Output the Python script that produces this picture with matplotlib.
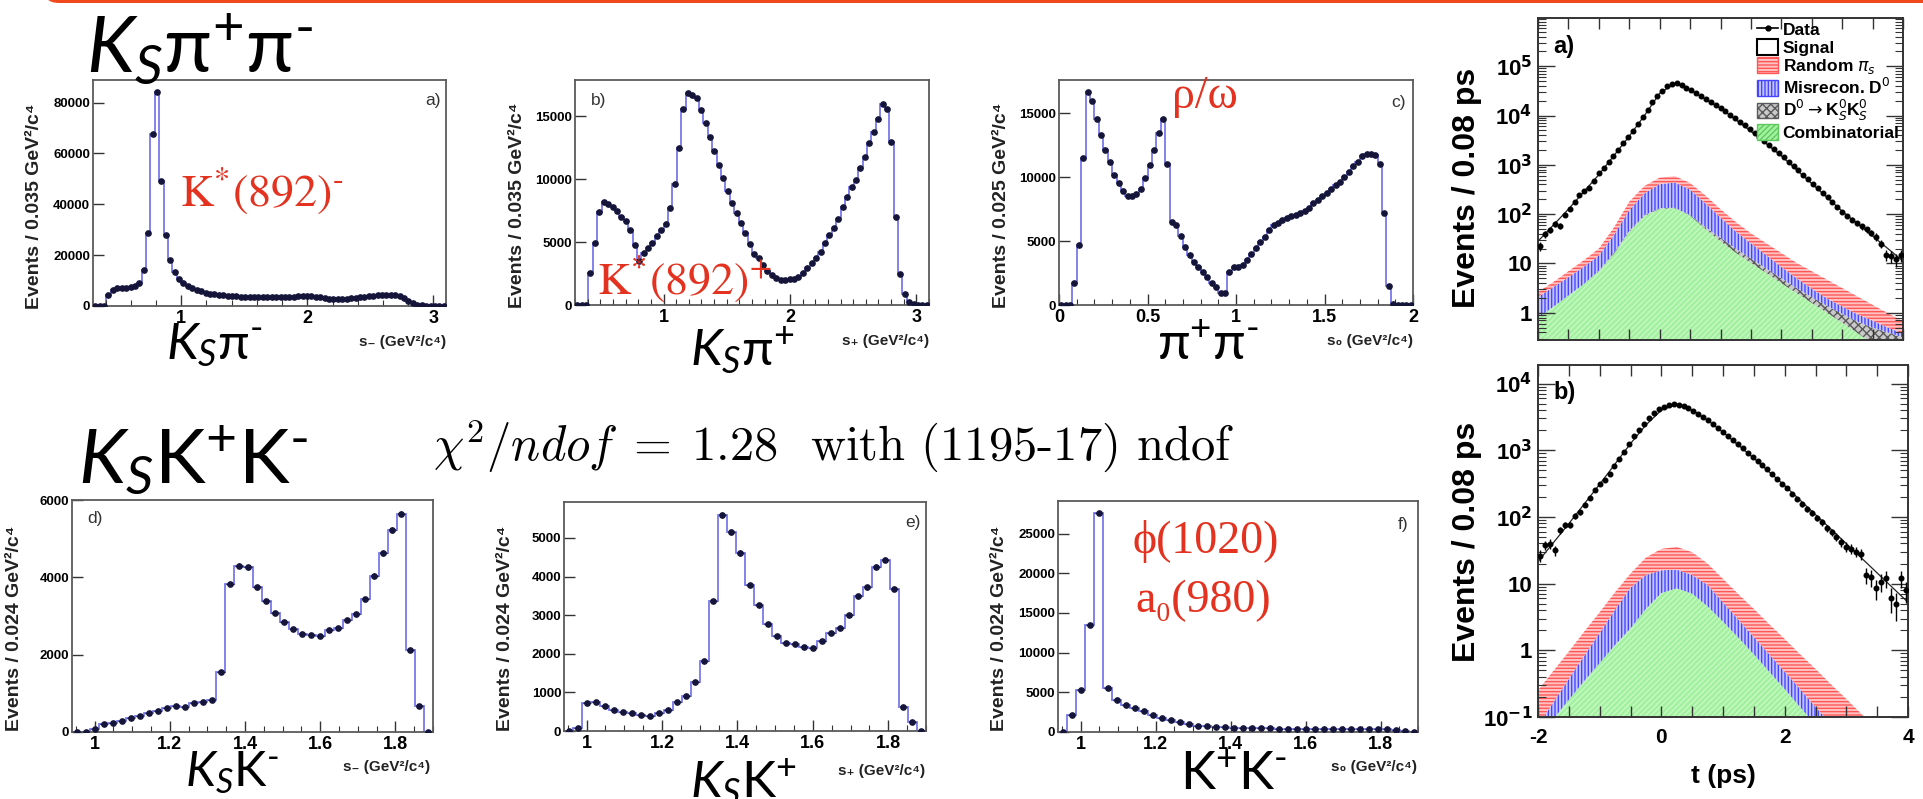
import numpy as np
import matplotlib
matplotlib.use("Agg")
import matplotlib.pyplot as plt
from matplotlib.patches import Patch, FancyBboxPatch
from matplotlib.lines import Line2D
from matplotlib.ticker import MultipleLocator, FuncFormatter, LogLocator, NullFormatter

# ---------------------------------------------------------------- data
# Dalitz-plot projections, D0 -> K_S pi+ pi-  (80 bins each)
ks_pim_counts = [0, 0, 0, 4300, 6300, 6900, 7000, 7000, 7300, 7800,
                 9200, 14000, 28900, 67700, 84300, 49300, 27800, 18100, 13500, 10500,
                 8900, 7900, 7000, 6300, 5800, 5300, 4900, 4600, 4400, 4200,
                 4000, 3900, 3800, 3700, 3600, 3550, 3500, 3450, 3400, 3400,
                 3400, 3400, 3450, 3500, 3600, 3700, 3800, 3900, 3950, 3900,
                 3700, 3400, 3100, 2900, 2800, 2750, 2800, 2900, 3000, 3200,
                 3400, 3600, 3800, 4000, 4200, 4300, 4400, 4300, 4200, 3800,
                 3000, 2000, 1100, 500, 200, 50, 0, 0, 0, 0]
ks_pip_counts = [0, 0, 0, 2570, 4900, 7370, 8170, 8040, 7800, 7480,
                 6980, 6710, 5970, 4770, 3500, 4110, 4500, 4900, 5490, 5970,
                 6450, 7690, 9600, 12520, 15570, 16900, 16700, 16500, 15520, 14460,
                 13340, 12280, 11170, 10080, 9100, 8140, 7290, 6550, 5700, 4850,
                 4060, 3710, 3180, 2730, 2390, 2120, 1990, 1990, 2040, 2040,
                 2200, 2520, 2920, 3320, 3710, 4240, 4900, 5570, 6150, 6820,
                 7820, 8620, 9420, 9950, 10880, 11750, 12860, 13790, 14800, 16000,
                 15600, 13000, 7000, 2500, 900, 250, 50, 0, 0, 0]
pipi_counts = [0, 0, 0, 1700, 4700, 11490, 16630, 15930, 14540, 13320,
               12140, 11150, 10180, 9530, 8930, 8540, 8490, 8690, 9060, 9920,
               10970, 12140, 13450, 14540, 11020, 6530, 6270, 5400, 4570, 3920,
               3390, 3000, 2610, 2220, 1750, 1380, 970, 910, 2610, 3000,
               2950, 3130, 3520, 4000, 4440, 4960, 5350, 5870, 6270, 6450,
               6610, 6790, 6970, 7050, 7230, 7390, 7570, 7960, 8220, 8490,
               8800, 9060, 9400, 9660, 10000, 10440, 10840, 11150, 11620, 11830,
               11830, 11750, 11040, 7230, 1490, 80, 0, 0, 0, 0]

# Dalitz-plot projections, D0 -> K_S K+ K-  (40 bins each)
ks_km_counts = [0, 0, 90, 200, 235, 290, 350, 410, 480, 550,
                610, 670, 650, 740, 780, 840, 1540, 3830, 4300, 4260,
                3740, 3390, 3090, 2840, 2670, 2540, 2520, 2480, 2650, 2700,
                2900, 3040, 3430, 4040, 4630, 5220, 5650, 2130, 670, 0]
ks_kp_counts = [0, 70, 730, 760, 650, 540, 500, 460, 410, 390,
                470, 540, 760, 900, 1280, 1810, 3370, 5600, 5160, 4610,
                3780, 3260, 2770, 2460, 2280, 2240, 2180, 2140, 2340, 2530,
                2680, 3000, 3490, 3720, 4250, 4440, 3690, 630, 240, 0]
kk_counts = [0, 2180, 5310, 13470, 27600, 5520, 4060, 3430, 3010, 2590,
             2180, 1760, 1460, 1210, 1000, 800, 710, 630, 590, 540,
             500, 480, 460, 450, 440, 430, 420, 410, 400, 400,
             390, 390, 380, 380, 370, 360, 340, 300, 150, 0]

# Proper-time distributions (log10 of events per 0.08 ps, -2 .. 4 ps)
t_log_kspipi = [1.35, 1.60, 1.68, 1.80, 1.76, 1.98, 2.10, 2.24, 2.38, 2.46,
                2.53, 2.68, 2.83, 2.93, 3.05, 3.18, 3.31, 3.44, 3.56, 3.69,
                3.83, 3.97, 4.12, 4.27, 4.40, 4.50, 4.59, 4.64, 4.65, 4.61,
                4.56, 4.51, 4.45, 4.39, 4.33, 4.27, 4.21, 4.15, 4.09, 4.02,
                3.94, 3.87, 3.80, 3.72, 3.64, 3.56, 3.49, 3.40, 3.32, 3.24,
                3.15, 3.06, 2.98, 2.90, 2.80, 2.71, 2.61, 2.52, 2.43, 2.34,
                2.24, 2.14, 2.05, 1.96, 1.89, 1.81, 1.75, 1.69, 1.62, 1.54,
                1.40, 1.18, 1.15, 1.08, 1.17]
t_log_kskk = [1.42, 1.58, 1.60, 1.50, 1.80, 1.88, 1.88, 2.02, 2.07, 2.18,
              2.28, 2.40, 2.49, 2.56, 2.65, 2.76, 2.87, 2.97, 3.09, 3.21,
              3.31, 3.40, 3.49, 3.56, 3.62, 3.65, 3.68, 3.69, 3.68, 3.66,
              3.63, 3.59, 3.55, 3.50, 3.45, 3.39, 3.33, 3.27, 3.21, 3.15,
              3.09, 3.03, 2.96, 2.90, 2.84, 2.78, 2.72, 2.64, 2.57, 2.50,
              2.44, 2.35, 2.27, 2.19, 2.12, 2.06, 1.99, 1.92, 1.83, 1.77,
              1.70, 1.62, 1.55, 1.52, 1.48, 1.45, 1.13, 1.10, 0.93, 1.03,
              1.08, 0.78, 0.70, 1.08, 0.90]

# Fit curves (log10) at selected times
fit_t_kspipi = [-2, -1.5, -1, -0.5, -0.25, 0, 0.25, 0.5, 0.75, 1, 1.5, 2, 3, 4]
fit_log_kspipi = [1.45, 2.10, 2.80, 3.58, 4.00, 4.45, 4.65, 4.52, 4.33, 4.15, 3.68, 3.18, 2.06, 1.05]
fit_t_kskk = [-2, -1.5, -1, -0.5, -0.25, 0, 0.25, 0.5, 0.75, 1, 1.5, 2, 3, 4]
fit_log_kskk = [1.33, 1.90, 2.49, 3.10, 3.38, 3.60, 3.69, 3.60, 3.45, 3.27, 2.88, 2.47, 1.60, 0.72]

# Stacked background components (log10 of cumulative height)
bkg_t = [-2, -1.75, -1.5, -1.25, -1, -0.75, -0.5, -0.25, 0, 0.25, 0.5, 0.75, 1,
         1.25, 1.5, 1.75, 2, 2.25, 2.5, 2.75, 3, 3.25, 3.5, 3.75, 4]
kspipi_rnd_top = [0.42, 0.62, 0.84, 1.06, 1.30, 1.73, 2.25, 2.57, 2.74, 2.77, 2.63, 2.38, 2.10,
                  1.84, 1.61, 1.41, 1.21, 1.01, 0.84, 0.67, 0.50, 0.33, 0.16, -0.01, -0.17]
kspipi_mis_top = [0.32, 0.52, 0.72, 0.93, 1.16, 1.58, 2.08, 2.42, 2.61, 2.64, 2.50, 2.22, 1.93,
                  1.65, 1.41, 1.17, 0.93, 0.70, 0.49, 0.29, 0.13, -0.03, -0.16, -0.30, -0.42]
kspipi_ksks_top = [-0.10, 0.12, 0.35, 0.58, 0.85, 1.22, 1.66, 1.98, 2.12, 2.13, 1.98, 1.74, 1.52,
                   1.30, 1.10, 0.90, 0.70, 0.50, 0.32, 0.14, -0.02, -0.18, -0.30, -0.40, -0.50]
kspipi_comb_top = [-0.10, 0.12, 0.35, 0.58, 0.84, 1.20, 1.64, 1.96, 2.11, 2.12, 1.97, 1.70, 1.45,
                   1.22, 1.01, 0.81, 0.60, 0.40, 0.20, 0.00, -0.20, -0.41, -0.62, -0.83, -1.04]
kskk_rnd_top = [-0.60, -0.31, -0.02, 0.28, 0.57, 0.87, 1.15, 1.39, 1.52, 1.55, 1.47, 1.30, 1.07,
                0.84, 0.62, 0.39, 0.17, -0.06, -0.28, -0.51, -0.73, -0.96, -1.18, -1.40, -1.60]
kskk_mis_top = [-1.12, -0.78, -0.43, -0.08, 0.26, 0.61, 0.94, 1.13, 1.20, 1.21, 1.13, 0.98, 0.72,
                0.46, 0.20, -0.06, -0.32, -0.58, -0.85, -1.10, -1.36, -1.60, -1.90, -2.10, -2.40]
kskk_comb_top = [-1.35, -1.03, -0.74, -0.46, -0.19, 0.08, 0.33, 0.62, 0.86, 0.93, 0.85, 0.66, 0.43,
                 0.19, -0.06, -0.32, -0.58, -0.85, -1.12, -1.40, -1.70, -2.00, -2.30, -2.60, -2.90]

legend_labels = ['Data', 'Signal', r'Random $\pi_s$', r'Misrecon. D$^0$',
                 r'D$^0\rightarrow$K$^0_S$K$^0_S$', 'Combinatorial']

# ---------------------------------------------------------------- style
W, H = 1923, 799
plt.rcParams.update({
    'font.family': ['Liberation Sans', 'DejaVu Sans'],
    'font.weight': 'normal',
    'mathtext.rm': 'Lato',
    'mathtext.it': 'Lato:italic',
    'mathtext.bf': 'Lato:bold',
    'mathtext.sf': 'Lato',
    'hatch.linewidth': 1.0,
})

HIST_BLUE = '#7878ec'
DOT = '#15153a'
RED = '#e3321f'
FRAME = '#5a5a5a'

fig = plt.figure(figsize=(W / 100, H / 100), dpi=100)
fig.patch.set_facecolor('white')


def add_ax(x0, y0, x1, y1):
    return fig.add_axes([x0 / W, 1 - y1 / H, (x1 - x0) / W, (y1 - y0) / H])


def ftext(x, y, s, **kw):
    return fig.text(x / W, 1 - y / H, s, **kw)


def gfmt(v, pos):
    return '%g' % round(v, 3)


def bold_ticklabels(ax):
    for lab in ax.get_xticklabels() + ax.get_yticklabels():
        lab.set_fontweight('bold')


def dalitz_panel(box, lo, width, counts, ymax, xmaj, xmin, ymaj, tag, tag_pos, tag_ha,
                 ylab, ylab_pos, xlab, xlab_pos, xticks_size=13):
    ax = add_ax(*box)
    counts = np.asarray(counts, float)
    edges = lo + width * np.arange(len(counts) + 1)
    centers = 0.5 * (edges[:-1] + edges[1:])
    ax.stairs(counts, edges, color=HIST_BLUE, lw=1.3, baseline=0)
    ax.errorbar(centers, counts, yerr=np.sqrt(counts), xerr=0.4 * width, fmt='o', ms=3.8,
                color=DOT, elinewidth=1.0, capsize=0, zorder=3)
    ax.set_xlim(edges[0], edges[-1])
    ax.set_ylim(0, ymax)
    ax.xaxis.set_major_locator(MultipleLocator(xmaj))
    ax.xaxis.set_minor_locator(MultipleLocator(xmin))
    ax.yaxis.set_major_locator(MultipleLocator(ymaj))
    ax.xaxis.set_major_formatter(FuncFormatter(gfmt))
    ax.yaxis.set_major_formatter(FuncFormatter(gfmt))
    ax.tick_params(axis='both', which='both', direction='in', top=False, right=False,
                   color='#333333')
    ax.tick_params(axis='x', which='major', length=8, width=1.0, labelsize=xticks_size, pad=3)
    ax.tick_params(axis='x', which='minor', length=4, width=0.8)
    ax.tick_params(axis='y', which='major', length=8, width=1.0, labelsize=9.5, pad=2)
    bold_ticklabels(ax)
    for sp in ax.spines.values():
        sp.set_color(FRAME)
        sp.set_linewidth(1.3)
    ftext(tag_pos[0], tag_pos[1], tag, ha=tag_ha, va='center', fontsize=12.5,
          color='#333333')
    ftext(ylab_pos[0], ylab_pos[1], ylab, rotation=90, ha='center', va='center',
          fontsize=14, fontweight='bold', color='#222222')
    ftext(xlab_pos[0], xlab_pos[1], xlab, ha='right', va='center', fontsize=11,
          fontweight='bold', color='#222222')
    return ax


# orange title rule along the top edge
fig.patches.append(FancyBboxPatch((0.43, (H - 3) / 100), 20, 1,
                                  boxstyle='round,pad=0,rounding_size=0.16',
                                  transform=fig.dpi_scale_trans, facecolor='#f04a1c',
                                  edgecolor='none', zorder=5))

unit_035 = 'Events / 0.035 GeV²/c⁴'
unit_025 = 'Events / 0.025 GeV²/c⁴'
unit_024 = 'Events / 0.024 GeV²/c⁴'
xl_minus = 's₋ (GeV²/c⁴)'
xl_plus = 's₊ (GeV²/c⁴)'
xl_zero = 's₀ (GeV²/c⁴)'

# K_S pi+ pi- projections
dalitz_panel((93, 80, 446, 306), 0.3, 0.035, ks_pim_counts, 88900, 1, 0.2, 20000,
             'a)', (441, 101), 'right', unit_035, (35, 206), xl_minus, (446, 342))
dalitz_panel((575, 80, 929, 305), 0.3, 0.035, ks_pip_counts, 17900, 1, 0.1, 5000,
             'b)', (591, 101), 'left', unit_035, (518, 205), xl_plus, (929, 341))
dalitz_panel((1059, 80, 1413, 305), 0.0, 0.025, pipi_counts, 17600, 0.5, 0.1, 5000,
             'c)', (1406, 102), 'right', unit_025, (1002, 205), xl_zero, (1413, 341))
# K_S K+ K- projections
dalitz_panel((72, 500, 433, 732), 0.94, 0.024, ks_km_counts, 6000, 0.2, 0.05, 2000,
             'd)', (87, 518), 'left', unit_024, (15, 628), xl_minus, (430, 767))
dalitz_panel((564, 502, 926, 731), 0.94, 0.024, ks_kp_counts, 5930, 0.2, 0.05, 1000,
             'e)', (921, 522), 'right', unit_024, (505, 628), xl_plus, (925, 771))
dalitz_panel((1058, 501, 1418, 732), 0.94, 0.024, kk_counts, 29100, 0.2, 0.05, 5000,
             'f)', (1408, 525), 'right', unit_024, (1000, 628), xl_zero, (1417, 767))


# ---------------------------------------------------------------- proper time
def log_label(v, pos):
    e = int(round(np.log10(v)))
    if e == 0:
        return '1'
    if e == 1:
        return '10'
    return r'10$^{\mathbf{%d}}$' % e


def t_label(v, pos):
    r = round(v, 2)
    if abs(r - round(r)) < 1e-6 and int(round(r)) % 2 == 0:
        return '%d' % int(round(r))
    return ''


def time_panel(box, log_counts, fit_t, fit_log, bands, ylim, tag, tag_pos, show_xlabels):
    ax = add_ax(*box)
    tb = np.asarray(bkg_t)
    lower = np.full(tb.shape, 1e-4)
    for top, fc, ec, hatch in bands:
        upper = 10 ** np.asarray(top)
        ax.fill_between(tb, lower, upper, facecolor=fc, edgecolor=ec, hatch=hatch,
                        linewidth=0, zorder=1)
        lower = upper
    n = 10 ** np.asarray(log_counts)
    t = -2 + 0.08 * (np.arange(len(n)) + 0.5)
    ax.plot(fit_t, 10 ** np.asarray(fit_log), color='#222222', lw=0.9, zorder=2)
    ax.errorbar(t, n, yerr=np.sqrt(n), xerr=0.025, fmt='o', ms=3.3, color='black',
                elinewidth=1.0, capsize=0, zorder=3)
    ax.set_yscale('log')
    ax.set_xlim(-2, 4)
    ax.set_ylim(*ylim)
    ax.xaxis.set_major_locator(MultipleLocator(0.5))
    ax.xaxis.set_major_formatter(FuncFormatter(t_label))
    ax.yaxis.set_major_locator(LogLocator(base=10, numticks=12))
    ax.yaxis.set_minor_locator(LogLocator(base=10, subs=np.arange(2, 10), numticks=12))
    ax.yaxis.set_minor_formatter(NullFormatter())
    ax.yaxis.set_major_formatter(FuncFormatter(log_label))
    ax.tick_params(axis='both', which='both', direction='in', top=True, right=True,
                   color='#333333')
    ax.tick_params(axis='x', which='major', length=8, width=1.0, labelsize=15, pad=8,
                   labelbottom=show_xlabels)
    ax.tick_params(axis='y', which='major', length=12, width=1.0, labelsize=16, pad=4)
    ax.tick_params(axis='y', which='minor', length=6, width=0.8)
    bold_ticklabels(ax)
    for sp in ax.spines.values():
        sp.set_color('#333333')
        sp.set_linewidth(1.4)
    ftext(tag_pos[0], tag_pos[1], tag, ha='left', va='center', fontsize=17,
          fontweight='bold', color='black')
    return ax


bands_kspipi = [
    (kspipi_comb_top, '#a2f19e', '#c9f8c5', '//////'),
    (kspipi_ksks_top, '#c9c9c9', '#5a5a5a', 'xxxx'),
    (kspipi_mis_top, '#c4c4ff', '#4646ff', '|||||'),
    (kspipi_rnd_top, '#ffc2c2', '#ff5757', '-----'),
]
bands_kskk = [
    (kskk_comb_top, '#a2f19e', '#c9f8c5', '//////'),
    (kskk_mis_top, '#c4c4ff', '#4646ff', '|||||'),
    (kskk_rnd_top, '#ffc2c2', '#ff5757', '-----'),
]

ax_ta = time_panel((1538, 18, 1903, 340), t_log_kspipi, fit_t_kspipi, fit_log_kspipi,
                   bands_kspipi, (0.28, 9.5e5), 'a)', (1553, 47), False)
ax_tb = time_panel((1538, 365, 1908, 717), t_log_kskk, fit_t_kskk, fit_log_kskk,
                   bands_kskk, (0.1, 1.9e4), 'b)', (1553, 392), True)

ftext(1467, 188, 'Events / 0.08 ps', rotation=90, ha='center', va='center', fontsize=23,
      fontweight='bold')
ftext(1467, 542, 'Events / 0.08 ps', rotation=90, ha='center', va='center', fontsize=23,
      fontweight='bold')
ftext(1723, 776, 't (ps)', ha='center', va='center', fontsize=19, fontweight='bold')

handles = [
    Line2D([], [], color='black', marker='o', ms=3.5, lw=1.2),
    Patch(facecolor='white', edgecolor='black', lw=1.5),
    Patch(facecolor='#ffc2c2', edgecolor='#ff5757', hatch='-----', lw=1.0),
    Patch(facecolor='#c4c4ff', edgecolor='#4646ff', hatch='|||||', lw=1.0),
    Patch(facecolor='#c9c9c9', edgecolor='#5a5a5a', hatch='xxxx', lw=1.0),
    Patch(facecolor='#a2f19e', edgecolor='#60c860', hatch='//////', lw=1.0),
]
ax_ta.legend(handles, legend_labels, loc='upper right', bbox_to_anchor=(1.0, 1.0),
             frameon=False, prop={'size': 12.5, 'weight': 'bold'}, handlelength=1.2,
             handleheight=1.0, handletextpad=0.25, labelspacing=0.06, borderaxespad=0.1,
             borderpad=0.1)

# ---------------------------------------------------------------- annotations
big = dict(color='black', math_fontfamily='custom', va='baseline', ha='left')
ftext(86, 72, r'$\mathit{K}_{\mathit{S}}\mathrm{\pi}^{+}\mathrm{\pi}^{\text{-}}$',
      fontsize=56, **big)
ftext(166, 359, r'$\mathit{K}_{\mathit{S}}\mathrm{\pi}^{\text{-}}$', fontsize=37, **big)
ftext(690, 365, r'$\mathit{K}_{\mathit{S}}\mathrm{\pi}^{+}$', fontsize=37, **big)
ftext(1157, 360, r'$\mathrm{\pi}^{+}\mathrm{\pi}^{\text{-}}$', fontsize=38, **big)
ftext(78, 483, r'$\mathit{K}_{\mathit{S}}\mathrm{K}^{+}\mathrm{K}^{\text{-}}$',
      fontsize=55, **big)
ftext(185, 786, r'$\mathit{K}_{\mathit{S}}\mathrm{K}^{\text{-}}$', fontsize=35, **big)
ftext(690, 797, r'$\mathit{K}_{\mathit{S}}\mathrm{K}^{+}$', fontsize=37, **big)
ftext(1180, 790, r'$\mathrm{K}^{+}\mathrm{K}^{\text{-}}$', fontsize=38, **big)

ftext(433, 460, r'$\chi^2/ndof\;=\;1.28$  with (1195-17) ndof', fontfamily='cmr10',
      math_fontfamily='cm', fontsize=35, va='baseline', ha='left', color='black')

res = dict(color=RED, va='baseline', ha='left')
ftext(180, 207, r'$\mathrm{K^{*}(892)^{\text{-}}}$', fontsize=33, math_fontfamily='stix', **res)
ftext(597, 295, r'$\mathrm{K^{*}(892)^{+}}$', fontsize=33, math_fontfamily='stix', **res)
ftext(1172, 108, 'ρ/ω', fontsize=33, fontfamily=['Liberation Serif', 'DejaVu Serif'], **res)
ftext(1132, 553, 'ϕ(1020)', fontsize=33, fontfamily=['Liberation Serif', 'DejaVu Serif'], **res)
ftext(1135, 612, 'a₀(980)', fontsize=33, fontfamily=['Liberation Serif', 'DejaVu Serif'], **res)

fig.savefig('out.png', dpi=100, facecolor='white')
